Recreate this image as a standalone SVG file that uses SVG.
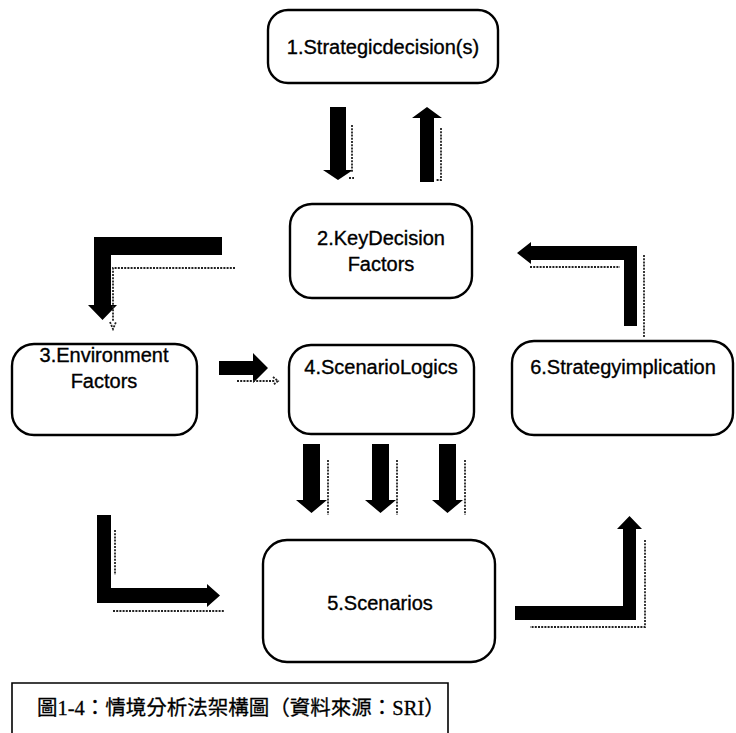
<svg xmlns="http://www.w3.org/2000/svg" width="736" height="733" viewBox="0 0 736 733">
  <style>
    .box { fill: #ffffff; stroke: #000000; stroke-width: 2.4; }
    .lbl { font-family: "Liberation Sans", Arial, sans-serif; font-size: 20px; fill: #000000; stroke: #000000; stroke-width: 0.35; text-anchor: middle; }
    .cap { font-family: "Liberation Serif", "Noto Sans CJK TC", serif; font-size: 20.5px; fill: #000000; stroke: #000000; stroke-width: 0.3; }
    .arrow { fill: #000000; }
    .shadow { fill: none; stroke: #222222; stroke-width: 1.8; stroke-dasharray: 2 1.2; }
  </style>
  <rect width="736" height="733" fill="#ffffff"/>

  <!-- nodes -->
  <g id="node1">
    <rect class="box" x="268" y="10" width="230" height="73" rx="20"/>
    <text class="lbl" x="383" y="54">1.Strategicdecision(s)</text>
  </g>
  <g id="node2">
    <rect class="box" x="290" y="204" width="182" height="94" rx="22"/>
    <text class="lbl" x="381" y="245">2.KeyDecision</text>
    <text class="lbl" x="381" y="271">Factors</text>
  </g>
  <g id="node3">
    <rect class="box" x="12" y="344" width="185" height="91" rx="22"/>
    <text class="lbl" x="104" y="362">3.Environment</text>
    <text class="lbl" x="104" y="388">Factors</text>
  </g>
  <g id="node4">
    <rect class="box" x="289" y="345" width="185" height="89" rx="22"/>
    <text class="lbl" x="381" y="374">4.ScenarioLogics</text>
  </g>
  <g id="node6">
    <rect class="box" x="512" y="341" width="221" height="94" rx="22"/>
    <text class="lbl" x="623" y="374">6.Strategyimplication</text>
  </g>
  <g id="node5">
    <rect class="box" x="263" y="540" width="232" height="122" rx="24"/>
    <text class="lbl" x="380" y="610">5.Scenarios</text>
  </g>
  <g id="caption">
    <path class="box" d="M12,740 V683 H448 V740" style="stroke-width:1.6"/>
    <text class="cap" x="37" y="715">圖1-4：情境分析法架構圖（資料來源：SRI）</text>
  </g>

  <!-- connectors -->
  <g id="connectors">
    <!-- 1 -> 2 -->
    <path class="arrow" d="M330,107 H346 V170 H353 L338,180 L323,170 H330 Z"/>
    <path class="shadow" d="M352,125 V172 M349,178 H354"/>
    <!-- 2 -> 1 -->
    <path class="arrow" d="M427,107 L442,118 H434 V182 H420 V118 H412 Z"/>
    <path class="shadow" d="M441,128 V180 H436"/>
    <!-- 2 -> 3 -->
    <path class="arrow" d="M94,237 H222 V255 H111 V305 H117 L102.5,320 L88,305 H94 Z"/>
    <path class="shadow" d="M235,268 H113 V322 M110,322 L113,329 L116,322"/>
    <!-- 6 -> 2 -->
    <path class="arrow" d="M517,253 L531,242 V246 H637 V326 H624 V260 H531 V264 Z"/>
    <path class="shadow" d="M530,267 H620 M644,255 V338"/>
    <!-- 3 -> 4 -->
    <path class="arrow" d="M219,361 H253 V353 L268,368 L253,383 V375 H219 Z"/>
    <path class="shadow" d="M237,381 H275 M273,377 L278,381 L273,385"/>
    <!-- 4 -> 5 (three) -->
    <path class="arrow" d="M303,444 H320 V500 H327 L311.5,513 L296,500 H303 Z"/>
    <path class="arrow" d="M372,444 H389 V500 H396 L380.5,513 L365,500 H372 Z"/>
    <path class="arrow" d="M439,444 H456 V500 H463 L447.5,513 L432,500 H439 Z"/>
    <path class="shadow" d="M328,460 V515 M397,460 V515 M465,460 V515"/>
    <!-- 3 -> 5 -->
    <path class="arrow" d="M97,515 H111 V588 H207 V584 L220,595.5 L207,607 V603 H97 Z"/>
    <path class="shadow" d="M115,530 V575 M113,611 H225"/>
    <!-- 5 -> 6 -->
    <path class="arrow" d="M515,606 H623 V529 H617 L629.5,516 L642,529 H636 V620 H515 Z"/>
    <path class="shadow" d="M645,540 V627 H530"/>
  </g>
</svg>
